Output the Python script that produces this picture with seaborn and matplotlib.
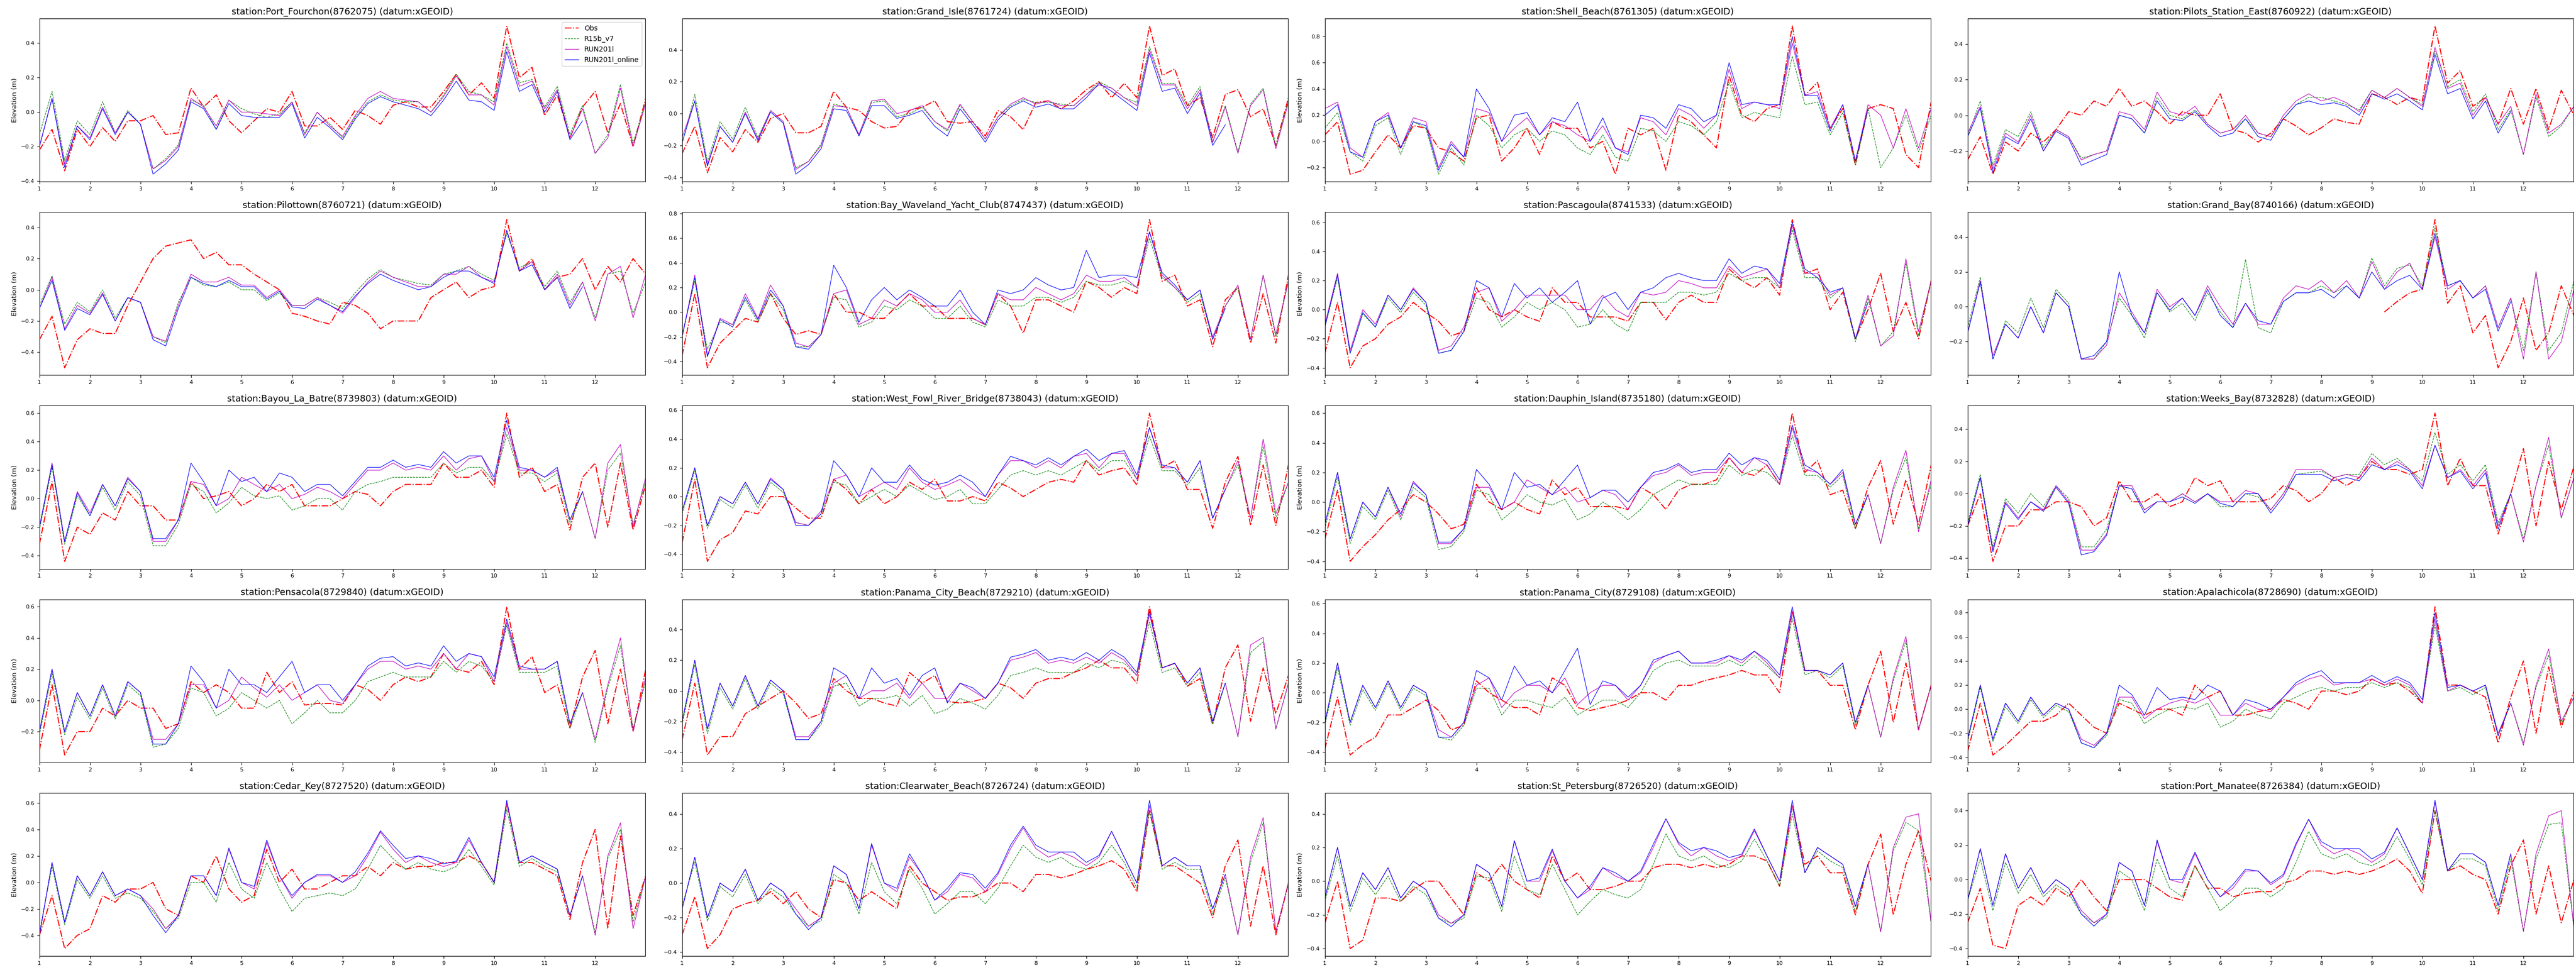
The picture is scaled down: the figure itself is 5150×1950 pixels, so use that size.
import numpy as np
import matplotlib
matplotlib.use("Agg")
import matplotlib.pyplot as plt
import seaborn as sns

# sample times in days (every 6 h)
days = np.arange(1, 13.01, 0.25)

# water levels in cm
# Port_Fourchon
obs_port_fourchon = [-22,-10,-34,-10,-20,-9,-17,-5,-5,-2,-13,-12,14,3,10,-5,-12,-5,2,0,12,-8,-8,-3,-10,1,-2,-7,4,6,3,3,12,22,10,17,8,50,20,26,-2,10,-15,3,12,-12,5,-20,8]
r15b_port_fourchon = [-13,12,-28,-5,-13,6,-12,1,-7,-33,-27,-19,7,4,-10,7,2,-1,-3,-1,6,-12,0,-7,-15,-3,6,10,7,6,6,0,10,22,12,10,6,40,17,19,3,15,-13,4,-24,-13,16,-18,6]
run201l_port_fourchon = [-20,8,-30,-8,-15,3,-12,0,-7,-33,-28,-20,8,3,-8,7,0,0,-1,-2,6,-13,0,-8,-14,-2,8,12,8,7,6,0,9,21,10,10,4,38,15,18,2,13,-15,2,-24,-15,14,-20,5]
online_port_fourchon = [-20,8,-32,-8,-16,2,-13,0,-7,-36,-30,-22,6,2,-10,5,-2,-3,-3,-3,5,-15,-3,-9,-16,-4,5,9,6,4,2,-2,7,18,7,6,1,35,12,16,0,12,-16,-5]

# Grand_Isle
obs_grand_isle = [-25,-8,-37,-15,-24,-10,-18,-3,0,-12,-12,-8,14,4,2,-5,-9,-8,2,4,8,-5,-6,-5,-14,2,-2,-10,7,8,3,8,15,20,10,19,10,55,24,28,5,10,-15,12,15,-2,3,-20,10]
r15b_grand_isle = [-19,12,-30,-5,-16,4,-15,2,-5,-34,-30,-19,6,4,-14,7,8,-2,0,4,-5,-11,5,-5,-16,-2,5,9,7,7,6,5,12,20,16,10,7,42,19,19,5,17,-18,5,-24,6,16,-20,8]
run201l_grand_isle = [-15,8,-32,-8,-18,1,-16,2,-5,-35,-30,-20,5,4,-13,8,9,0,2,5,-5,-10,6,-5,-16,-2,6,10,6,8,5,5,12,18,16,10,5,40,18,18,3,15,-18,4,-25,5,15,-22,7]
online_grand_isle = [-18,8,-33,-8,-18,0,-17,1,-6,-38,-32,-22,3,2,-14,5,5,-3,-1,2,-8,-14,3,-7,-18,-4,4,8,4,6,3,3,10,19,14,8,2,38,14,16,0,13,-20,-7]

# Shell_Beach
obs_shell_beach = [5,15,-25,-22,-8,5,-5,12,10,-5,-8,-15,18,20,-15,-5,10,-10,15,10,10,-5,0,-25,10,5,10,-22,20,15,5,-5,50,20,15,25,28,88,35,45,10,25,-18,25,28,25,-10,-20,30]
r15b_shell_beach = [10,22,-8,-15,12,18,-10,15,10,-25,-5,-18,20,12,-5,5,10,0,8,5,-5,-10,5,-12,-15,10,8,0,15,12,5,15,45,18,22,20,18,65,28,30,5,22,-18,25,-20,-5,20,-8,20]
run201l_shell_beach = [25,30,-5,-12,15,22,-5,18,15,-20,0,-12,25,22,0,10,18,5,15,12,5,0,12,-5,-8,18,15,5,25,20,10,20,55,25,30,28,25,75,35,38,10,28,-15,28,20,-5,25,-5,25]
online_shell_beach = [20,28,-8,-12,15,20,-5,15,12,-22,-2,-12,40,25,0,20,22,5,18,15,30,0,18,-5,-10,20,18,10,28,25,15,20,60,28,30,28,28,80,35,35,8,28,-15,25]

# Pilots_Station_East
obs_pilots_east = [-25,-12,-33,-15,-20,-10,-15,-8,2,0,8,5,15,5,8,2,-5,2,0,0,12,-8,-10,-15,-10,-2,-6,-11,-7,-2,-4,-5,12,10,6,10,8,50,18,25,5,10,-5,15,-5,15,-8,14,0]
r15b_pilots_east = [-12,8,-28,-8,-12,2,-18,-8,-12,-24,-22,-20,0,-2,-10,10,0,-2,3,-5,-10,-8,-2,-10,-12,-2,6,10,10,8,6,3,14,10,15,10,6,36,16,20,2,12,-8,3,-22,10,-12,-6,5]
run201l_pilots_east = [-10,5,-30,-10,-15,0,-20,-8,-12,-25,-22,-20,2,0,-8,13,2,0,5,-5,-10,-8,0,-10,-12,0,8,12,8,10,7,2,14,10,15,10,5,38,15,18,0,10,-5,5,-22,12,-10,-5,5]
online_pilots_east = [-12,4,-32,-12,-16,-2,-20,-9,-13,-28,-25,-22,0,-2,-10,8,-2,-3,2,-6,-12,-10,-2,-12,-14,-2,6,8,6,7,5,0,12,9,12,8,3,34,12,15,-2,8,-10,2]

# Pilottown
obs_pilottown = [-32,-17,-50,-32,-25,-28,-28,-10,5,20,28,30,32,20,24,16,16,10,5,0,-15,-17,-20,-22,-8,-10,-15,-25,-20,-20,-20,-5,0,5,-5,0,2,45,12,20,0,8,10,20,0,15,5,20,10]
r15b_pilottown = [-10,9,-22,-8,-14,0,-18,-5,-8,-30,-34,-8,8,3,2,5,0,0,-7,-2,-10,-10,-5,-8,-12,-2,7,13,8,6,4,3,10,12,15,10,6,36,14,18,2,12,-8,5,-18,10,12,-15,5]
run201l_pilottown = [-12,8,-25,-10,-15,-2,-20,-5,-8,-30,-33,-10,10,5,5,8,3,3,-5,0,-10,-10,-5,-10,-15,-5,5,12,8,5,2,2,10,10,15,8,5,38,12,18,0,10,-10,5,-20,10,15,-18,10]
online_pilottown = [-12,6,-26,-12,-16,-3,-20,-5,-8,-32,-36,-12,8,4,2,6,2,2,-6,-1,-11,-12,-6,-10,-14,-4,4,10,6,3,0,2,8,12,12,8,4,38,12,16,0,8,-12,2]

# Bay_Waveland_Yacht_Club
obs_bay_waveland = [-35,15,-45,-25,-15,-5,-8,15,-5,-18,-15,-18,15,0,0,-5,-5,5,15,5,5,-5,-5,-5,-10,15,5,-17,10,10,5,0,25,20,12,20,15,75,25,30,5,10,-28,10,20,-25,15,-25,30]
r15b_bay_waveland = [-18,25,-30,-8,-10,10,-8,15,2,-28,-28,-18,12,10,-12,-8,5,2,10,5,-5,-5,5,-8,-12,10,5,5,12,12,8,12,25,22,22,25,20,60,28,20,8,15,-22,5,20,-22,30,-20,25]
run201l_bay_waveland = [-20,30,-35,-5,-10,15,-5,22,5,-25,-28,-18,15,18,-10,-5,10,5,15,10,0,0,10,-5,-10,15,10,10,20,15,10,15,30,25,25,28,20,65,30,20,10,18,-20,5,22,-22,30,-18,25]
online_bay_waveland = [-20,28,-36,-6,-12,12,-6,18,5,-28,-30,-18,38,20,-8,10,20,10,18,12,5,5,18,0,-10,18,15,18,28,22,18,20,50,28,30,30,28,65,32,22,10,18,-22,3]

# Pascagoula
obs_pascagoula = [-30,5,-40,-25,-20,-10,-5,5,-2,-8,-18,-15,15,0,-5,0,-5,-8,15,5,5,-5,-5,-5,-8,5,5,-7,5,10,5,5,28,20,15,22,10,62,25,28,0,12,-20,0,25,-15,5,-20,20]
r15b_pascagoula = [-12,22,-30,-3,-12,8,-2,12,3,-30,-28,-15,8,5,-12,-5,5,0,5,0,-12,-10,0,-10,-15,5,5,5,12,12,10,12,25,20,22,22,15,55,22,22,8,15,-22,8,-25,-15,32,-18,20]
run201l_pascagoula = [-10,25,-28,0,-10,10,0,15,5,-28,-25,-12,12,15,-8,0,10,10,10,10,0,0,10,0,-5,12,10,12,20,18,15,15,30,22,25,28,15,58,25,25,10,15,-20,10,-25,-18,35,-15,20]
online_pascagoula = [-12,24,-30,-2,-12,10,0,14,5,-30,-28,-15,20,15,-5,18,8,15,5,12,20,-10,8,12,0,12,15,22,25,22,20,20,35,25,30,28,18,60,28,22,12,15,-20,5]

# Grand_Bay (no observations before day 9.25)
obs_grand_bay = [None] * 33 + [-3,3,8,10,50,2,12,-15,-5,-35,-20,5,-25,-15,12,-5]
r15b_grand_bay = [-12,17,-30,-8,-15,5,-12,10,2,-30,-30,-20,5,-5,-18,8,-3,2,-8,8,-3,-12,27,-12,-15,3,8,8,12,8,12,5,28,12,22,24,12,45,12,15,5,12,-12,5,-25,20,-25,-15,15]
run201l_grand_bay = [-15,15,-28,-10,-18,0,-15,8,0,-30,-30,-22,8,-3,-15,10,0,5,-5,12,0,-10,2,-10,-10,5,12,10,15,8,15,5,26,10,20,25,10,40,10,15,5,12,-12,5,-30,20,-30,-20,10]
online_grand_bay = [-15,14,-30,-10,-18,0,-15,8,0,-30,-28,-20,20,-5,-15,8,-2,5,-5,10,-5,-12,2,-8,-10,3,8,8,10,5,12,5,20,10,15,18,10,42,12,15,5,10,-14,3]

# Bayou_La_Batre
obs_bayou_la_batre = [-32,12,-44,-20,-25,-10,-15,5,-5,-5,-15,-15,12,0,2,5,-5,0,10,5,10,-5,-5,-5,0,5,3,-5,5,10,10,10,25,15,15,20,8,60,15,22,5,10,-22,15,25,-20,25,-22,10]
r15b_bayou_la_batre = [-22,22,-32,2,-12,8,-8,12,2,-33,-33,-18,10,5,-10,-3,8,2,0,2,-8,-5,0,0,-8,5,10,12,15,15,15,15,25,18,22,22,12,45,18,18,12,18,-18,5,-28,20,32,-18,12]
run201l_bayou_la_batre = [-20,25,-30,5,-10,10,-5,15,5,-30,-30,-15,12,10,-5,0,15,10,5,10,0,3,8,5,0,10,20,20,25,20,22,20,30,20,28,30,12,50,20,20,15,20,-15,5,-28,25,38,-20,15]
online_bayou_la_batre = [-20,24,-30,4,-12,10,-5,14,5,-28,-28,-15,25,12,-5,20,12,15,5,18,15,5,10,10,2,12,22,22,27,22,24,22,33,25,30,30,15,55,22,20,15,22,-15,5]

# West_Fowl_River_Bridge
obs_west_fowl = [-32,12,-45,-30,-25,-10,-12,0,0,-8,-15,-15,12,5,-5,5,-5,0,10,5,12,-3,-3,0,-3,10,6,0,5,10,12,10,25,15,18,20,8,58,20,25,5,5,-22,10,28,-20,22,-20,22]
r15b_west_fowl = [-12,18,-22,-2,-8,8,-8,10,3,-18,-20,-12,10,8,-5,0,5,0,8,3,-2,0,5,-5,-5,5,15,18,15,18,15,20,25,18,25,25,12,42,18,18,8,20,-15,5,22,-15,35,-15,10]
run201l_west_fowl = [-10,20,-20,0,-5,10,-5,13,5,-18,-20,-10,12,15,0,5,10,5,20,10,5,8,12,5,0,15,25,25,20,25,20,28,30,20,30,30,12,48,20,20,10,25,-15,5,25,-15,40,-12,10]
online_west_fowl = [-10,20,-20,0,-5,10,-5,12,5,-20,-20,-12,25,15,0,20,10,10,22,12,8,10,15,10,0,15,28,25,22,27,22,28,33,25,30,32,15,48,22,20,10,25,-15,5]

# Dauphin_Island
obs_dauphin_island = [-25,8,-40,-30,-22,-12,-5,5,0,-8,-18,-15,12,0,-5,0,-5,-8,15,5,10,-3,-3,-3,-5,10,5,-5,8,12,12,15,30,20,18,25,12,60,20,28,5,8,-18,10,28,-15,15,-15,25]
r15b_dauphin_island = [-18,17,-28,-3,-12,8,-12,10,3,-32,-30,-20,8,5,-12,-5,5,0,-2,2,-12,-8,0,-5,-12,-5,5,10,15,12,12,12,25,18,22,20,12,45,18,18,10,18,-18,5,-28,8,30,-18,12]
run201l_dauphin_island = [-15,20,-25,0,-10,10,-10,14,5,-28,-28,-18,10,10,-5,0,15,10,5,10,0,3,8,5,-5,10,18,20,25,18,20,20,30,20,30,25,12,50,22,20,12,20,-15,5,-28,10,35,-20,15]
online_dauphin_island = [-15,20,-25,0,-10,10,-8,13,5,-27,-27,-18,22,12,-5,20,10,12,5,15,25,3,8,8,0,10,20,22,26,20,22,22,33,25,30,28,15,52,25,20,12,22,-15,5]

# Weeks_Bay
obs_weeks_bay = [-20,0,-42,-20,-20,-10,-10,-5,-5,-8,-20,-15,8,-5,-5,0,-8,-5,10,5,8,-5,-5,-5,-3,5,2,-5,0,10,5,10,20,15,15,12,15,50,5,22,5,5,-25,0,28,-20,20,-10,17]
r15b_weeks_bay = [-18,12,-33,-3,-12,0,-8,5,-3,-33,-33,-22,5,3,-10,-5,-5,0,-5,0,-8,-8,0,-2,-10,0,12,13,14,10,12,12,25,18,22,15,8,38,12,18,8,18,-18,0,-28,5,30,-15,10]
run201l_weeks_bay = [-20,10,-35,-5,-15,-5,-10,5,-5,-35,-35,-25,5,5,-10,-5,-5,0,-5,0,-5,-5,2,0,-10,0,15,15,15,10,12,10,22,15,20,15,5,30,10,15,5,15,-20,0,-30,5,35,-15,10]
online_weeks_bay = [-20,10,-36,-6,-16,-5,-11,4,-6,-38,-36,-26,5,3,-12,-5,-5,-2,-6,0,-6,-8,0,0,-12,-2,12,12,12,8,10,8,18,15,18,14,3,30,10,14,3,13,-22,0]

# Pensacola
obs_pensacola = [-32,10,-35,-20,-20,-5,-10,0,-5,-5,-18,-15,12,5,10,5,-5,-5,18,5,12,-3,-2,-2,-3,10,7,0,10,15,12,15,30,20,18,25,10,60,20,28,5,10,-18,15,32,-15,20,-20,20]
r15b_pensacola = [-22,17,-22,2,-12,8,-12,10,3,-30,-28,-18,8,5,-10,-5,5,0,-5,0,-15,-8,0,-8,-8,0,12,15,18,15,15,15,25,18,25,22,12,48,18,18,18,22,-18,5,-27,8,35,-18,12]
run201l_pensacola = [-20,20,-20,5,-10,10,-10,12,5,-25,-25,-15,10,10,-5,0,15,8,2,10,0,5,10,0,-2,10,20,25,25,20,22,20,30,20,30,28,12,50,20,20,20,25,-15,5,-25,10,40,-20,15]
online_pensacola = [-20,20,-20,5,-10,10,-10,12,5,-28,-28,-15,22,12,-5,20,10,10,5,15,25,5,10,10,0,10,22,27,28,22,24,22,35,25,30,28,15,52,22,20,20,25,-15,5]

# Panama_City_Beach
obs_panama_city_beach = [-32,5,-42,-30,-30,-15,-10,-5,0,-8,-18,-15,8,0,-5,-5,-8,-10,12,5,10,-7,-8,-7,-5,5,2,-5,5,8,8,12,15,20,15,15,5,55,15,18,3,8,-22,15,30,-20,15,-15,10]
r15b_panama_city_beach = [-22,17,-28,2,-12,8,-12,5,-2,-32,-32,-22,3,5,-10,-5,-5,-3,-10,-3,-15,-12,-5,-8,-12,-3,10,12,15,12,12,12,18,15,20,18,10,45,12,15,3,12,-22,5,-30,25,32,-25,5]
run201l_panama_city_beach = [-20,20,-25,5,-10,10,-10,7,0,-30,-30,-20,5,10,-5,0,0,5,-5,5,-5,-5,5,0,-5,5,20,22,25,18,20,18,22,18,25,20,10,50,15,18,5,15,-20,5,-30,30,35,-25,5]
online_panama_city_beach = [-20,20,-25,5,-10,10,-10,7,0,-32,-32,-20,15,10,-5,15,5,8,-3,10,15,-8,5,2,-5,5,22,24,27,20,22,20,25,20,27,22,12,52,15,18,5,15,-20,5]

# Panama_City
obs_panama_city = [-38,-3,-42,-35,-30,-15,-15,-10,-5,-12,-25,-22,8,0,-5,-10,-10,-15,10,5,-10,-12,-10,-8,-5,0,0,-5,5,5,8,10,12,15,12,12,0,55,15,15,5,5,-25,5,28,-20,20,-25,5]
r15b_panama_city = [-22,17,-22,2,-12,6,-12,3,-2,-30,-32,-22,3,3,-15,-5,-5,-8,-10,-3,-15,-10,-5,-5,-10,0,15,20,22,18,18,18,22,18,25,18,10,50,12,15,10,18,-22,5,-30,8,35,-25,5]
run201l_panama_city = [-20,20,-20,5,-10,8,-10,5,0,-25,-30,-20,5,10,-10,0,5,5,0,10,-8,0,5,5,-5,5,20,25,28,20,20,20,25,20,28,20,10,55,15,15,12,20,-20,5,-30,10,38,-25,5]
online_panama_city = [-20,20,-20,5,-10,8,-10,5,0,-30,-30,-20,15,10,-5,18,5,8,0,15,30,-8,8,5,-3,5,22,25,28,20,20,22,25,22,28,22,12,58,15,15,12,20,-20,5]

# Apalachicola
obs_apalachicola = [-35,5,-38,-30,-20,-10,-10,-5,5,-5,-15,-20,5,0,-5,0,0,-5,20,10,15,-5,-5,-2,0,8,5,0,15,15,12,15,25,20,22,15,5,85,20,20,15,10,-28,10,40,-20,35,-15,15]
r15b_apalachicola = [-27,18,-27,2,-12,8,-7,3,-2,-28,-32,-22,8,5,-12,-5,0,2,0,5,-15,-10,0,-5,-8,5,10,15,18,15,18,18,22,18,22,18,5,70,15,18,12,18,-22,5,-28,18,45,-12,10]
run201l_apalachicola = [-25,20,-25,5,-10,10,-5,5,0,-25,-30,-20,10,10,-8,0,5,8,5,10,-5,-5,5,0,-2,10,20,25,28,20,22,22,25,20,25,20,5,75,15,20,15,20,-20,5,-30,20,50,-10,10]
online_apalachicola = [-25,20,-25,5,-10,10,-5,5,0,-28,-32,-20,20,12,-5,18,8,10,8,20,15,-5,8,5,0,10,22,28,32,22,22,22,28,22,27,22,8,80,18,20,15,20,-22,5]

# Cedar_Key
obs_cedar_key = [-40,-10,-50,-40,-35,-10,-15,-5,-5,0,-20,-25,5,0,20,-5,-15,-10,25,0,10,-5,-5,0,5,5,12,5,15,10,12,12,15,15,20,15,0,60,15,15,10,5,-28,15,40,-35,35,-25,5]
r15b_cedar_key = [-38,12,-32,2,-12,5,-12,-8,-12,-22,-35,-27,0,0,-15,15,-5,-12,15,-5,-22,-12,-10,-8,-10,-5,10,28,18,10,15,10,8,12,25,12,-2,55,12,18,12,8,-25,5,-38,18,40,-30,5]
run201l_cedar_key = [-40,15,-30,5,-10,8,-10,-5,-10,-20,-35,-25,5,5,-10,25,0,-5,30,5,-12,0,5,5,0,5,20,38,25,15,20,15,12,15,32,15,0,60,15,20,15,10,-25,5,-40,20,45,-35,5]
online_cedar_key = [-40,15,-30,5,-10,8,-10,-5,-10,-25,-38,-25,5,5,-10,26,0,-3,32,5,-10,0,6,6,0,8,22,39,28,18,20,18,14,16,34,15,0,62,15,20,15,10,-25,5]

# Clearwater_Beach
obs_clearwater_beach = [-30,-8,-38,-30,-15,-12,-10,-5,-12,-5,-15,-20,2,0,-10,-5,-10,-15,10,0,-5,-10,-8,-8,-5,0,0,-5,5,5,3,5,8,10,13,8,-5,42,10,10,5,0,-20,10,25,-25,10,-30,0]
r15b_clearwater_beach = [-13,12,-22,-2,-8,5,-12,-3,-8,-18,-25,-22,5,0,-18,12,-5,-12,8,-3,-18,-12,-5,-5,-12,-3,10,22,15,12,15,10,8,12,22,12,-3,42,8,12,8,8,-18,3,-30,12,35,-28,0]
run201l_clearwater_beach = [-15,15,-20,0,-5,8,-10,0,-5,-15,-25,-20,10,5,-15,22,0,-5,15,5,-10,-5,5,3,-5,5,20,32,20,15,18,15,10,15,30,15,0,45,10,15,10,10,-15,5,-30,15,38,-28,0]
online_clearwater_beach = [-15,15,-20,0,-5,8,-10,0,-5,-18,-27,-20,10,5,-15,23,0,-3,17,5,-10,-3,6,5,-3,6,22,33,22,18,18,18,12,16,30,15,0,48,10,15,10,10,-15,5]

# St_Petersburg
obs_st_petersburg = [-25,0,-40,-35,-10,-10,-12,-5,0,0,-10,-20,5,0,10,0,-5,-10,15,0,5,-5,-5,-3,0,0,8,10,10,8,10,8,10,15,15,12,-3,45,10,15,5,5,-20,10,28,-20,10,30,0]
r15b_st_petersburg = [-12,15,-18,2,-8,3,-12,-3,-8,-22,-25,-22,3,2,-18,15,-5,-8,10,-5,-20,-12,-5,-8,-10,-5,10,28,15,12,15,10,8,12,25,12,-3,40,5,18,12,8,-18,10,-30,18,35,30,-25]
run201l_st_petersburg = [-10,20,-15,5,-5,8,-10,0,-5,-20,-25,-20,10,5,-15,24,0,0,18,0,-10,-5,8,3,0,5,20,37,22,15,20,15,12,15,30,15,0,45,5,20,15,10,-15,10,-30,20,38,40,-25]
online_st_petersburg = [-10,20,-15,5,-5,8,-10,0,-5,-22,-27,-20,10,5,-15,24,0,2,19,0,-10,-3,8,5,0,6,22,37,23,18,20,18,14,16,31,15,0,48,5,20,15,10,-15,10]

# Port_Manatee
obs_port_manatee = [-25,-5,-38,-40,-15,-10,-15,-5,-10,0,-10,-18,0,0,0,-5,-10,-12,8,-5,-5,-10,-8,-7,-7,-2,0,5,5,3,5,3,5,8,12,5,-8,40,5,8,3,0,-20,8,23,-20,8,-25,0]
r15b_port_manatee = [-12,12,-18,10,-8,3,-10,-3,-8,-20,-25,-22,5,0,-18,12,-5,-10,8,-5,-18,-12,-5,-5,-10,-5,10,28,15,12,15,10,8,12,25,12,-3,40,5,12,12,8,-18,12,-30,12,32,33,-28]
run201l_port_manatee = [-12,18,-15,15,-5,7,-8,0,-5,-18,-25,-20,10,5,-15,22,0,-2,15,0,-10,-5,5,5,-3,2,20,35,20,15,18,15,10,15,30,15,0,45,5,15,15,10,-15,15,-30,15,37,40,-28]
online_port_manatee = [-12,18,-15,15,-5,7,-8,0,-5,-20,-27,-20,10,5,-15,23,0,0,16,0,-10,-3,6,5,-2,3,21,35,22,18,18,18,12,16,30,15,0,46,5,15,15,10,-15,15]

stations = [
    ("Port_Fourchon(8762075)", obs_port_fourchon, r15b_port_fourchon, run201l_port_fourchon, online_port_fourchon),
    ("Grand_Isle(8761724)", obs_grand_isle, r15b_grand_isle, run201l_grand_isle, online_grand_isle),
    ("Shell_Beach(8761305)", obs_shell_beach, r15b_shell_beach, run201l_shell_beach, online_shell_beach),
    ("Pilots_Station_East(8760922)", obs_pilots_east, r15b_pilots_east, run201l_pilots_east, online_pilots_east),
    ("Pilottown(8760721)", obs_pilottown, r15b_pilottown, run201l_pilottown, online_pilottown),
    ("Bay_Waveland_Yacht_Club(8747437)", obs_bay_waveland, r15b_bay_waveland, run201l_bay_waveland, online_bay_waveland),
    ("Pascagoula(8741533)", obs_pascagoula, r15b_pascagoula, run201l_pascagoula, online_pascagoula),
    ("Grand_Bay(8740166)", obs_grand_bay, r15b_grand_bay, run201l_grand_bay, online_grand_bay),
    ("Bayou_La_Batre(8739803)", obs_bayou_la_batre, r15b_bayou_la_batre, run201l_bayou_la_batre, online_bayou_la_batre),
    ("West_Fowl_River_Bridge(8738043)", obs_west_fowl, r15b_west_fowl, run201l_west_fowl, online_west_fowl),
    ("Dauphin_Island(8735180)", obs_dauphin_island, r15b_dauphin_island, run201l_dauphin_island, online_dauphin_island),
    ("Weeks_Bay(8732828)", obs_weeks_bay, r15b_weeks_bay, run201l_weeks_bay, online_weeks_bay),
    ("Pensacola(8729840)", obs_pensacola, r15b_pensacola, run201l_pensacola, online_pensacola),
    ("Panama_City_Beach(8729210)", obs_panama_city_beach, r15b_panama_city_beach, run201l_panama_city_beach, online_panama_city_beach),
    ("Panama_City(8729108)", obs_panama_city, r15b_panama_city, run201l_panama_city, online_panama_city),
    ("Apalachicola(8728690)", obs_apalachicola, r15b_apalachicola, run201l_apalachicola, online_apalachicola),
    ("Cedar_Key(8727520)", obs_cedar_key, r15b_cedar_key, run201l_cedar_key, online_cedar_key),
    ("Clearwater_Beach(8726724)", obs_clearwater_beach, r15b_clearwater_beach, run201l_clearwater_beach, online_clearwater_beach),
    ("St_Petersburg(8726520)", obs_st_petersburg, r15b_st_petersburg, run201l_st_petersburg, online_st_petersburg),
    ("Port_Manatee(8726384)", obs_port_manatee, r15b_port_manatee, run201l_port_manatee, online_port_manatee),
]

# label, color, linestyle, linewidth
styles = [
    ("Obs", "r", "-.", 1.5),
    ("R15b_v7", "g", "--", 0.8),
    ("RUN201l", "m", "-", 0.8),
    ("RUN201l_online", "b", "-", 0.8),
]

fig, axes = plt.subplots(5, 4, figsize=(51.5, 19.5), dpi=100)
fig.subplots_adjust(left=0.0153, right=0.999, top=0.981, bottom=0.0195,
                    wspace=0.061, hspace=0.187)

for i, (ax, st) in enumerate(zip(axes.flat, stations)):
    name = st[0]
    for series, (lab, col, ls, lw) in zip(st[1:], styles):
        y = np.array(series, dtype=float) / 100.0
        sns.lineplot(x=days[:len(y)], y=y, ax=ax, color=col, linestyle=ls,
                     linewidth=lw, label=lab, legend=False)
    ax.set_title(f"station:{name} (datum:xGEOID)", fontsize=13)
    ax.set_xlim(1, 12.99)
    ax.set_xticks(range(1, 13))
    ax.tick_params(labelsize=8)
    if i % 4 in (0, 2):
        ax.set_ylabel("Elevation (m)", fontsize=9.5)
    if i == 0:
        ax.legend(loc="upper right", fontsize=10)

fig.savefig("out.png", dpi=100)
